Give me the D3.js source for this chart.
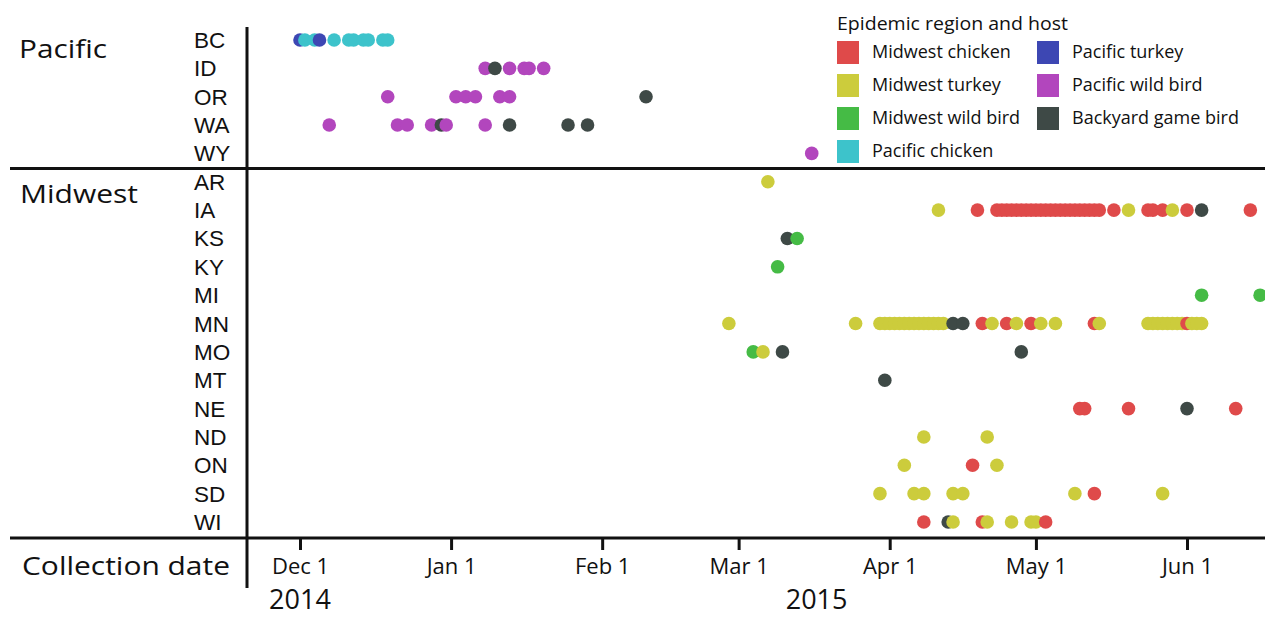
<!DOCTYPE html>
<html>
<head>
<meta charset="utf-8">
<script src="https://cdn.jsdelivr.net/npm/d3@7"></script>
<style>
  body { margin: 0; background: #fff; }
  svg { display: block; }
  .big { font-family: "Open Sans", sans-serif; fill: #111; }
  .state { font-family: "Liberation Sans", Arial, sans-serif; font-size: 22.5px; fill: #111; }
  .legend text { font-family: "Open Sans", sans-serif; fill: #111; }
  .axis text { font-family: "Open Sans", sans-serif; font-size: 22px; fill: #111; }
  .axis line { stroke: #111; stroke-width: 3; }
</style>
</head>
<body>
<div id="chart"></div>
<script>
// rows, top to bottom
var pacificStates = ["BC", "ID", "OR", "WA", "WY"];
var midwestStates = ["AR", "IA", "KS", "KY", "MI", "MN", "MO", "MT", "NE", "ND", "ON", "SD", "WI"];

var hostGroups = ["Midwest chicken", "Midwest turkey", "Midwest wild bird", "Pacific chicken",
                  "Pacific turkey", "Pacific wild bird", "Backyard game bird"];
var hostColors = ["#df4a4a", "#cccc3c", "#45bb45", "#3dc3cb", "#3d47b3", "#b246bd", "#3e4946"];

var monthTicks = ["2014-12-01", "2015-01-01", "2015-02-01", "2015-03-01", "2015-04-01", "2015-05-01", "2015-06-01"];
var yearLabels = [["2014", "2014-12-01"], ["2015", "2015-03-17"]];

// detections: [state, collection dates]
var pacificTurkey = [
    ["BC", ["2014-12-01", "2014-12-05"]]
];
var pacificChicken = [
    ["BC", ["2014-12-02", "2014-12-04", "2014-12-08", "2014-12-11", "2014-12-12", "2014-12-14", "2014-12-15", "2014-12-18", "2014-12-19"]]
];
var pacificWildBird = [
    ["ID", ["2015-01-08", "2015-01-13", "2015-01-16", "2015-01-17", "2015-01-20"]],
    ["OR", ["2014-12-19", "2015-01-02", "2015-01-04", "2015-01-06", "2015-01-11", "2015-01-13"]],
    ["WA", ["2014-12-07", "2014-12-21", "2014-12-23", "2014-12-28", "2014-12-31", "2015-01-08"]],
    ["WY", ["2015-03-16"]]
];
var backyardGameBird = [
    ["ID", ["2015-01-10"]],
    ["OR", ["2015-02-10"]],
    ["WA", ["2014-12-30", "2015-01-13", "2015-01-25", "2015-01-29"]],
    ["IA", ["2015-06-04"]],
    ["KS", ["2015-03-11"]],
    ["MN", ["2015-04-14", "2015-04-16"]],
    ["MO", ["2015-03-10", "2015-04-28"]],
    ["MT", ["2015-03-31"]],
    ["NE", ["2015-06-01"]],
    ["WI", ["2015-04-13"]]
];
var midwestWildBird = [
    ["KS", ["2015-03-13"]],
    ["KY", ["2015-03-09"]],
    ["MI", ["2015-06-04", "2015-06-16"]],
    ["MO", ["2015-03-04"]]
];
var midwestTurkey = [
    ["AR", ["2015-03-07"]],
    ["IA", ["2015-04-11", "2015-05-20", "2015-05-29"]],
    ["MN", ["2015-02-27", "2015-03-25", "2015-03-30", "2015-03-31", "2015-04-01", "2015-04-02", "2015-04-03",
            "2015-04-04", "2015-04-05", "2015-04-06", "2015-04-07", "2015-04-08", "2015-04-09", "2015-04-10",
            "2015-04-11", "2015-04-12", "2015-04-22", "2015-04-27", "2015-05-02", "2015-05-05", "2015-05-14",
            "2015-05-24", "2015-05-25", "2015-05-26", "2015-05-27", "2015-05-28", "2015-05-29", "2015-05-30",
            "2015-05-31", "2015-06-02", "2015-06-03", "2015-06-04"]],
    ["MO", ["2015-03-06"]],
    ["ND", ["2015-04-08", "2015-04-21"]],
    ["ON", ["2015-04-04", "2015-04-23"]],
    ["SD", ["2015-03-30", "2015-04-06", "2015-04-08", "2015-04-14", "2015-04-16", "2015-05-09", "2015-05-27"]],
    ["WI", ["2015-04-14", "2015-04-21", "2015-04-26", "2015-04-30", "2015-05-01"]]
];
var midwestChicken = [
    ["IA", ["2015-04-19", "2015-04-23", "2015-04-24", "2015-04-25", "2015-04-26", "2015-04-27", "2015-04-28",
            "2015-04-29", "2015-04-30", "2015-05-01", "2015-05-02", "2015-05-03", "2015-05-04", "2015-05-05",
            "2015-05-06", "2015-05-07", "2015-05-08", "2015-05-09", "2015-05-10", "2015-05-11", "2015-05-12",
            "2015-05-13", "2015-05-14", "2015-05-17", "2015-05-24", "2015-05-25", "2015-05-27", "2015-06-01",
            "2015-06-14"]],
    ["MN", ["2015-04-20", "2015-04-25", "2015-04-30", "2015-05-13", "2015-06-01"]],
    ["NE", ["2015-05-10", "2015-05-11", "2015-05-20", "2015-06-11"]],
    ["ON", ["2015-04-18"]],
    ["SD", ["2015-05-13"]],
    ["WI", ["2015-04-08", "2015-04-20", "2015-05-03"]]
];

var width = 1265, height = 617;
var parse = d3.utcParse("%Y-%m-%d");

var svg = d3.select("#chart").append("svg")
    .attr("width", width)
    .attr("height", height);

svg.append("rect").attr("width", width).attr("height", height).attr("fill", "#fff");

var x = d3.scaleUtc()
    .domain([parse("2014-12-01"), parse("2015-06-01")])
    .range([300, 1187]);

var y = d3.scalePoint()
    .domain(pacificStates.concat(midwestStates))
    .range([40, 522]);

var color = d3.scaleOrdinal().domain(hostGroups).range(hostColors);

// flatten all detections, later dates drawn on top
var groups = [
    ["Pacific turkey", pacificTurkey], ["Pacific chicken", pacificChicken], ["Pacific wild bird", pacificWildBird],
    ["Backyard game bird", backyardGameBird], ["Midwest wild bird", midwestWildBird],
    ["Midwest turkey", midwestTurkey], ["Midwest chicken", midwestChicken]
];
var points = [];
groups.forEach(function (g) {
    g[1].forEach(function (row) {
        row[1].forEach(function (d) {
            points.push({ host: g[0], state: row[0], date: parse(d) });
        });
    });
});
points.sort(function (a, b) { return a.date - b.date; });

svg.append("g").selectAll("circle")
    .data(points)
    .enter().append("circle")
    .attr("cx", function (d) { return x(d.date); })
    .attr("cy", function (d) { return y(d.state); })
    .attr("r", 6.8)
    .attr("fill", function (d) { return color(d.host); });

// frame lines
var sepY = (y("WY") + y("AR")) / 2 + 1;
svg.append("line").attr("x1", 10).attr("x2", width).attr("y1", sepY).attr("y2", sepY)
    .attr("stroke", "#111").attr("stroke-width", 3);
svg.append("line").attr("x1", 10).attr("x2", width).attr("y1", 538).attr("y2", 538)
    .attr("stroke", "#111").attr("stroke-width", 3);
svg.append("line").attr("x1", 247).attr("x2", 247).attr("y1", 27).attr("y2", 588)
    .attr("stroke", "#111").attr("stroke-width", 3);

// state labels
svg.append("g").selectAll("text")
    .data(y.domain())
    .enter().append("text")
    .attr("class", "state")
    .attr("x", 194)
    .attr("y", function (d) { return y(d) + 8; })
    .text(function (d) { return d; });

// region labels
function bigLabel(txt, xx, yy, size, len) {
    svg.append("text").attr("class", "big")
        .attr("x", xx).attr("y", yy)
        .style("font-size", size + "px")
        .attr("textLength", len)
        .attr("lengthAdjust", "spacingAndGlyphs")
        .text(txt);
}
bigLabel("Pacific", 19, 58, 26, 88);
bigLabel("Midwest", 20, 203, 26, 118);
bigLabel("Collection date", 22, 575, 26, 208);

// date axis
var xAxis = d3.axisBottom(x)
    .tickValues(monthTicks.map(parse))
    .tickSize(12)
    .tickPadding(8)
    .tickFormat(d3.utcFormat("%b %-d"));

var axisG = svg.append("g")
    .attr("class", "axis")
    .attr("transform", "translate(0,538)")
    .call(xAxis);
axisG.select(".domain").remove();

svg.append("g").selectAll("text")
    .data(yearLabels)
    .enter().append("text")
    .attr("class", "big")
    .attr("x", function (d) { return x(parse(d[1])); })
    .attr("y", 609)
    .attr("text-anchor", "middle")
    .style("font-size", "27px")
    .text(function (d) { return d[0]; });

// legend
var legend = svg.append("g").attr("class", "legend");
legend.append("text").attr("x", 837).attr("y", 30)
    .style("font-size", "19px")
    .attr("textLength", 231).attr("lengthAdjust", "spacingAndGlyphs")
    .text("Epidemic region and host");

var items = legend.selectAll(".item")
    .data(hostGroups)
    .enter().append("g")
    .attr("class", "item")
    .attr("transform", function (d, i) {
        var col = i < 4 ? 0 : 1, row = i < 4 ? i : i - 4;
        return "translate(" + (837 + col * 200) + "," + (52 + row * 33) + ")";
    });
items.append("rect")
    .attr("x", 0).attr("y", -11)
    .attr("width", 22).attr("height", 23)
    .attr("fill", function (d) { return color(d); });
items.append("text")
    .attr("x", 35).attr("y", 6)
    .style("font-size", "18px")
    .text(function (d) { return d; });
</script>
</body>
</html>
